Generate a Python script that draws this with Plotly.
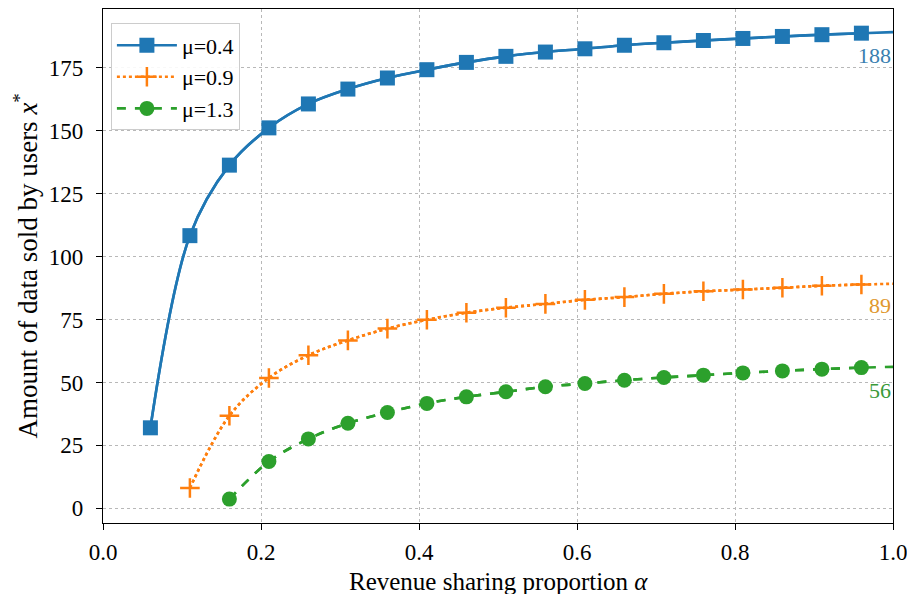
import plotly.graph_objects as go

# Revenue sharing proportion (marker positions)
alpha_blue = [0.06, 0.11, 0.16, 0.21, 0.26, 0.31, 0.36, 0.41, 0.46, 0.51,
              0.56, 0.61, 0.66, 0.71, 0.76, 0.81, 0.86, 0.91, 0.96]
alpha_orange = alpha_blue[1:]
alpha_green = alpha_blue[2:]

# Values
mu04 = [32.0, 108.3, 136.3, 151.1, 160.6, 166.5, 170.9, 174.2, 177.1, 179.5,
        181.2, 182.5, 183.9, 184.9, 185.8, 186.6, 187.4, 188.1, 188.7]
mu09 = [8.1, 36.8, 51.8, 60.8, 66.7, 71.4, 74.9, 77.7, 79.7,
        81.2, 82.8, 83.9, 85.2, 86.2, 86.9, 87.6, 88.4, 88.9]
mu13 = [3.7, 18.6, 27.6, 33.8, 38.1, 41.7, 44.3, 46.3,
        48.3, 49.6, 50.9, 52.0, 52.9, 53.8, 54.6, 55.3, 55.9]
# curve end values at alpha = 1.0
end_alpha = 1.0
end_vals = [189.1, 89.2, 56.2]
end_labels = ["188", "89", "56"]
label_y = [179.8, 80.6, 47.0]

names = ["μ=0.4", "μ=0.9", "μ=1.3"]
colors = ["#1f77b4", "#ff7f0e", "#2ca02c"]
label_colors = ["#3a7fb0", "#e0982e", "#3a9a3a"]

x_title = "Revenue sharing proportion <i>α</i>"
y_title = "Amount of data sold by users <i>x</i><sup>*</sup>"

FONT = "Liberation Serif"

fig = go.Figure()

series = [
    (alpha_blue, mu04, "solid", dict(symbol="square", size=15, color=colors[0])),
    (alpha_orange, mu09, "dot", dict(symbol="cross-thin", size=14, color=colors[1],
                                      line=dict(color=colors[1], width=2.5))),
    (alpha_green, mu13, "dash", dict(symbol="circle", size=15, color=colors[2])),
]

for i, (xs, ys, dash, mk) in enumerate(series):
    # smooth line including tail to alpha=1.0
    fig.add_trace(go.Scatter(
        x=xs + [end_alpha], y=ys + [end_vals[i]], mode="lines",
        line=dict(color=colors[i], width=2.6, dash=dash, shape="spline", smoothing=1.0),
        showlegend=False, hoverinfo="skip"))
    # markers with legend entry
    fig.add_trace(go.Scatter(
        x=xs, y=ys, mode="lines+markers", name=names[i],
        line=dict(color=colors[i], width=2.6, dash=dash, shape="spline", smoothing=1.0),
        marker=mk))

for i in range(3):
    fig.add_annotation(x=end_alpha, y=label_y[i], text=end_labels[i], showarrow=False,
                       xanchor="right", yanchor="middle",
                       font=dict(family=FONT, size=22, color=label_colors[i]))

# axis titles
fig.add_annotation(x=0.5, y=-0.114, xref="paper", yref="paper", text=x_title,
                   showarrow=False, xanchor="center", yanchor="middle",
                   font=dict(family=FONT, size=25, color="black"))
fig.add_annotation(x=-0.098, y=0.5, xref="paper", yref="paper", text=y_title,
                   showarrow=False, xanchor="center", yanchor="middle", textangle=-90,
                   font=dict(family=FONT, size=27, color="black"))

axis_common = dict(
    showline=True, linecolor="black", linewidth=1.2, mirror=True,
    ticks="outside", ticklen=6, tickwidth=1.2, tickcolor="black",
    showgrid=True, gridcolor="#b8b8b8", griddash="dot", gridwidth=1.2,
    zeroline=False, tickfont=dict(family=FONT, size=23, color="black"),
)

fig.update_layout(
    width=899, height=586,
    margin=dict(l=95, r=11, t=0, b=71),
    plot_bgcolor="white", paper_bgcolor="white",
    font=dict(family=FONT, size=22, color="black"),
    xaxis=dict(range=[0, 1], tickvals=[0, 0.2, 0.4, 0.6, 0.8, 1.0],
               ticktext=["0.0", "0.2", "0.4", "0.6", "0.8", "1.0"],
               ticklabelstandoff=2, ticklabeloverflow="allow",
               **axis_common),
    yaxis=dict(range=[-5.8, 198.3], tickvals=[0, 25, 50, 75, 100, 125, 150, 175],
               ticklabelstandoff=8,
               **axis_common),
    legend=dict(x=0.01, y=0.972, xanchor="left", yanchor="top",
                bgcolor="rgba(255,255,255,0.9)", bordercolor="#cccccc", borderwidth=1,
                font=dict(family=FONT, size=22), itemwidth=60, tracegroupgap=0),
    showlegend=True,
)

fig.write_html("out.html")
